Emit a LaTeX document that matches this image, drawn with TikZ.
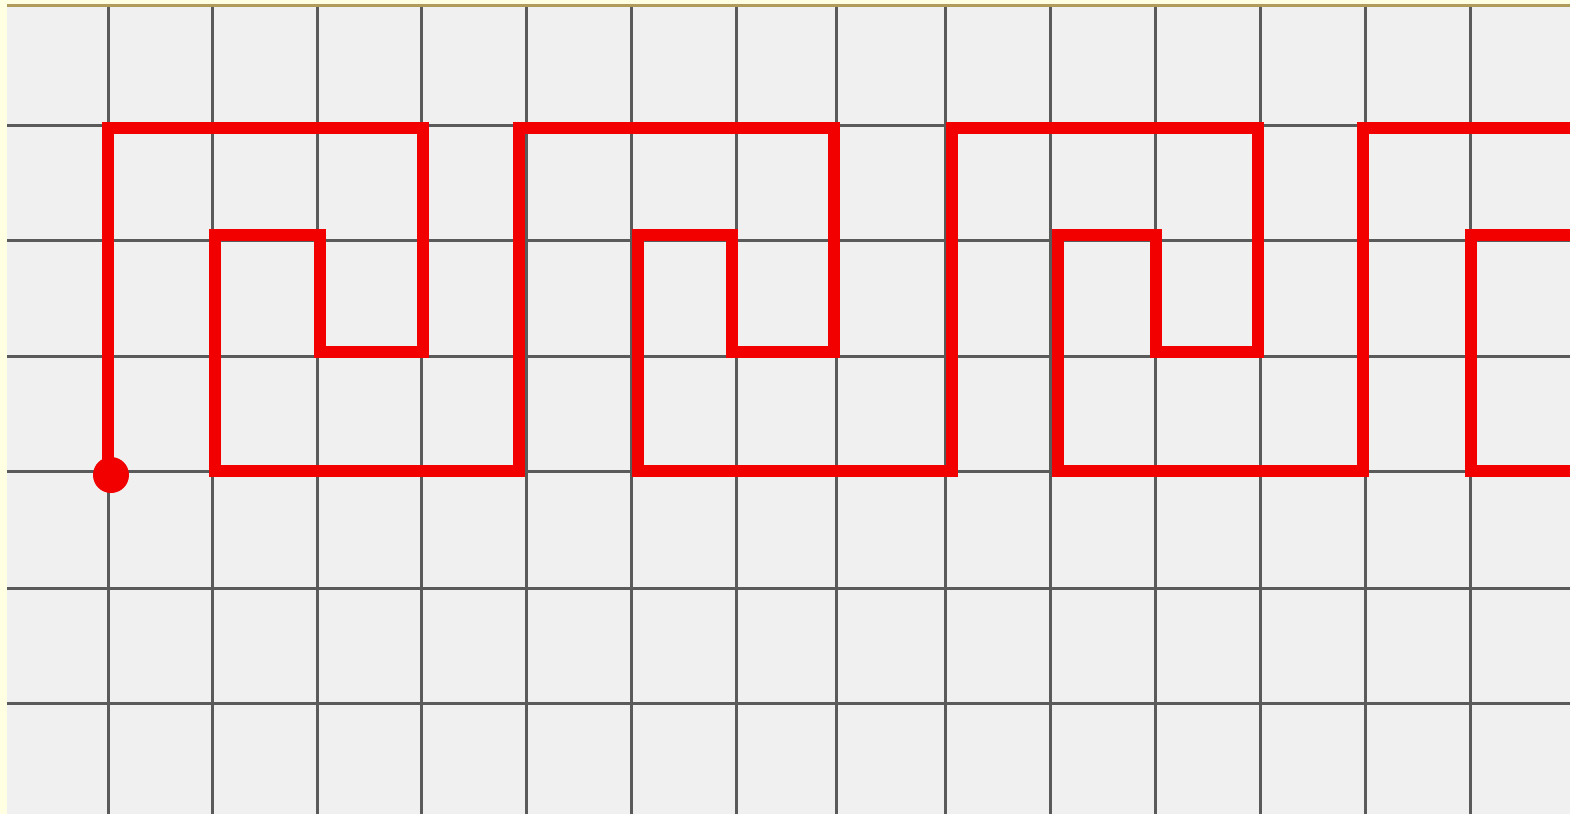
\documentclass[tikz,border=0pt]{standalone}
\definecolor{paleyellow}{RGB}{255,255,226}
\definecolor{gridbg}{RGB}{240,240,240}
\definecolor{gridline}{RGB}{90,90,90}
\definecolor{topline}{RGB}{176,156,90}
\definecolor{meander}{RGB}{242,0,0}
\begin{document}
\begin{tikzpicture}[x=0.5pt,y=-0.5pt,
  gridrule/.style={draw=gridline,line width=1.5pt},
  keyline/.style={draw=meander,line width=6pt,line join=miter},
  startdot/.style={circle,fill=meander,inner sep=0pt,minimum size=18pt}]
\useasboundingbox (0,0) rectangle (1570,814);
\fill[paleyellow] (0,0) rectangle (1570,814);
\fill[gridbg] (7,7) rectangle (1570,814);
\draw[topline,line width=1.5pt] (7,5.5) -- (1570,5.5);
% grid
\foreach \x in {108,212,317,421,526,631,736,836,945,1050,1155,1260,1365,1470}
  \draw[gridrule] (\x,7) -- (\x,814);
\foreach \y in {125,240,356,471,588,703}
  \draw[gridrule] (7,\y) -- (1570,\y);
% meander
\draw[keyline] (108,472) -- (108,128) -- (423,128) -- (423,352) -- (320,352)
  -- (320,235) -- (215,235) -- (215,471) -- (519,471) -- (519,128)
  -- (834,128) -- (834,352) -- (732,352) -- (732,235) -- (638,235)
  -- (638,471) -- (952,471) -- (952,128) -- (1258,128) -- (1258,352)
  -- (1156,352) -- (1156,235) -- (1058,235) -- (1058,471) -- (1363,471)
  -- (1363,128) -- (1572,128);
\draw[keyline] (1572,235) -- (1471,235) -- (1471,471) -- (1572,471);
\node[startdot] (start) at (111,475) {};
\end{tikzpicture}
\end{document}
